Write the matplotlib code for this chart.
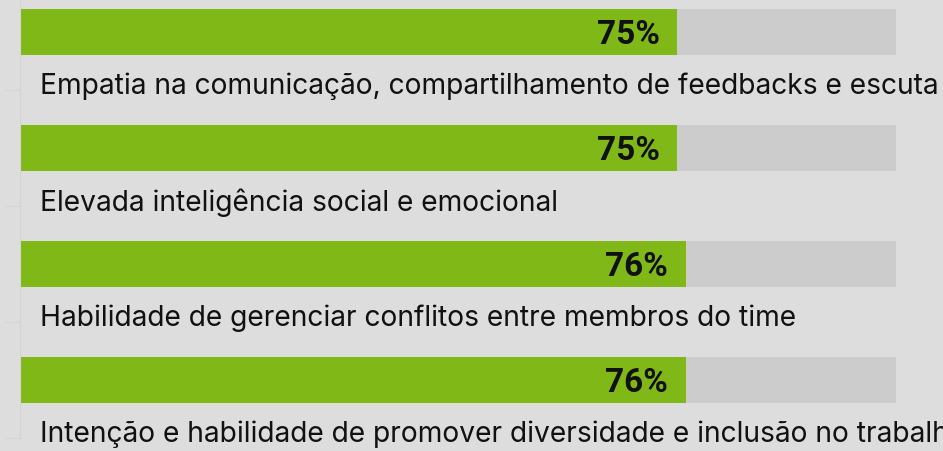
import numpy as np
import matplotlib.pyplot as plt

# Data
labels = [
    "Empatia na comunicação, compartilhamento de feedbacks e escuta",
    "Elevada inteligência social e emocional",
    "Habilidade de gerenciar conflitos entre membros do time",
    "Intenção e habilidade de promover diversidade e inclusão no trabalho",
]
values = [75, 75, 76, 76]

bg = "#dddddd"
green = "#80b917"
track = "#cccccc"

fig = plt.figure(figsize=(9.43, 4.52), dpi=100, facecolor=bg)
ax = fig.add_axes([20 / 943, 0, 876 / 943, 1])
ax.set_facecolor(bg)

y = np.arange(len(values))
bar_h = 46 / 116

ax.barh(y, [100] * len(values), height=bar_h, color=track, zorder=1)
ax.barh(y, values, height=bar_h, color=green, zorder=2)

for yi, v, lab in zip(y, values, labels):
    ax.text(v - 2.0, yi + 0.02, f"{v}%", ha="right", va="center",
            fontsize=24, fontweight="bold", family="Roboto", color="#111111", zorder=3)
    # last label runs off the right edge, as in the original
    ax.text(2.3, yi + 0.46, lab, ha="left", va="center",
            fontsize=20.3, family="Inter", color="#111111", clip_on=False)

ax.set_xlim(0, 100)
ax.set_ylim((452 - 33) / 116, -33 / 116)

# faint axis line and ticks
for s in ["top", "right", "bottom"]:
    ax.spines[s].set_visible(False)
ax.spines["left"].set_color("#d4d4d4")
ax.spines["left"].set_bounds(-0.3, 3.52)
ax.set_yticks(y + 0.5)
ax.set_yticklabels([])
ax.tick_params(axis="y", length=11, color="#d4d4d4")
ax.set_xticks([])

fig.savefig("out.png", dpi=100, facecolor=bg)
